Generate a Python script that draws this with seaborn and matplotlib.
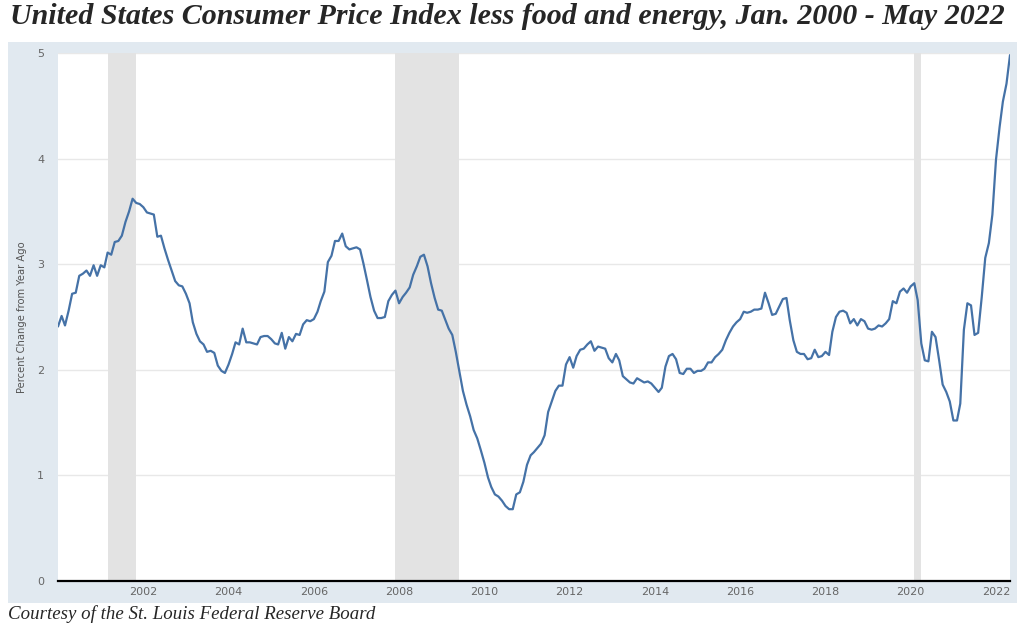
import pandas as pd
import matplotlib
matplotlib.use("Agg")
import matplotlib.pyplot as plt
import matplotlib.dates as mdates
from matplotlib.patches import Rectangle
import seaborn as sns

# monthly core CPI, percent change from year ago (Jan 2000 .. May 2022)
first_month = "2000-01-01"
pct_change = [
    2.41, 2.51, 2.42, 2.56, 2.72, 2.73, 2.89, 2.91, 2.94, 2.89, 2.99, 2.89,  # 2000
    2.99, 2.97, 3.11, 3.09, 3.21, 3.22, 3.27, 3.40, 3.50, 3.62, 3.58, 3.57,  # 2001
    3.54, 3.49, 3.48, 3.47, 3.26, 3.27, 3.15, 3.04, 2.94, 2.84, 2.80, 2.79,  # 2002
    2.72, 2.63, 2.45, 2.34, 2.27, 2.24, 2.17, 2.18, 2.16, 2.04, 1.99, 1.97,  # 2003
    2.05, 2.15, 2.26, 2.24, 2.39, 2.26, 2.26, 2.25, 2.24, 2.31, 2.32, 2.32,  # 2004
    2.29, 2.25, 2.24, 2.35, 2.20, 2.31, 2.27, 2.34, 2.33, 2.43, 2.47, 2.46,  # 2005
    2.48, 2.55, 2.65, 2.74, 3.02, 3.08, 3.22, 3.22, 3.29, 3.17, 3.14, 3.15,  # 2006
    3.16, 3.14, 3.01, 2.85, 2.69, 2.56, 2.49, 2.49, 2.50, 2.65, 2.71, 2.75,  # 2007
    2.63, 2.69, 2.73, 2.78, 2.90, 2.98, 3.07, 3.09, 2.98, 2.82, 2.68, 2.57,  # 2008
    2.56, 2.47, 2.39, 2.33, 2.17, 1.98, 1.80, 1.67, 1.56, 1.43, 1.35, 1.24,  # 2009
    1.12, 0.98, 0.89, 0.82, 0.80, 0.76, 0.71, 0.68, 0.68, 0.82, 0.84, 0.94,  # 2010
    1.10, 1.19, 1.22, 1.26, 1.30, 1.38, 1.60, 1.70, 1.80, 1.85, 1.85, 2.05,  # 2011
    2.12, 2.02, 2.13, 2.19, 2.20, 2.24, 2.27, 2.18, 2.22, 2.21, 2.20, 2.11,  # 2012
    2.07, 2.15, 2.09, 1.94, 1.91, 1.88, 1.87, 1.92, 1.90, 1.88, 1.89, 1.87,  # 2013
    1.83, 1.79, 1.83, 2.03, 2.13, 2.15, 2.10, 1.97, 1.96, 2.01, 2.01, 1.97,  # 2014
    1.99, 1.99, 2.01, 2.07, 2.07, 2.12, 2.15, 2.19, 2.28, 2.35, 2.41, 2.45,  # 2015
    2.48, 2.55, 2.54, 2.55, 2.57, 2.57, 2.58, 2.73, 2.63, 2.52, 2.53, 2.60,  # 2016
    2.67, 2.68, 2.47, 2.28, 2.17, 2.15, 2.15, 2.10, 2.11, 2.19, 2.12, 2.13,  # 2017
    2.17, 2.14, 2.36, 2.50, 2.55, 2.56, 2.54, 2.44, 2.48, 2.42, 2.48, 2.46,  # 2018
    2.39, 2.38, 2.39, 2.42, 2.41, 2.44, 2.48, 2.65, 2.63, 2.74, 2.77, 2.73,  # 2019
    2.79, 2.82, 2.66, 2.25, 2.09, 2.08, 2.36, 2.31, 2.09, 1.86, 1.79, 1.70,  # 2020
    1.52, 1.52, 1.68, 2.38, 2.63, 2.61, 2.33, 2.35, 2.69, 3.06, 3.20, 3.47,  # 2021
    3.99, 4.30, 4.54, 4.71, 4.98,                                            # 2022
]

recession_starts = ["2001-03-01", "2007-12-01", "2020-02-01"]
recession_ends = ["2001-11-01", "2009-06-01", "2020-04-01"]
tick_years = [2002, 2004, 2006, 2008, 2010, 2012, 2014, 2016, 2018, 2020, 2022]
y_ticks = [0, 1, 2, 3, 4, 5]

title = "United States Consumer Price Index less food and energy, Jan. 2000 - May 2022"
caption = "Courtesy of the St. Louis Federal Reserve Board"

df = pd.DataFrame({
    "date": pd.date_range(first_month, periods=len(pct_change), freq="MS"),
    "pct": pct_change,
})

sns.set_style("white")
plt.rcParams["font.family"] = ["DejaVu Sans"]

W, H = 1024, 628
fig = plt.figure(figsize=(W / 100, H / 100), dpi=100)
fig.patch.set_facecolor("white")

# light blue FRED-style panel behind the plot
fig.add_artist(Rectangle((8 / W, 1 - 603 / H), 1009 / W, 561 / H,
                         transform=fig.transFigure, facecolor="#e1e9f0",
                         edgecolor="none", zorder=0))

ax = fig.add_axes([58 / W, 1 - 581 / H, 952 / W, 528 / H])
ax.set_facecolor("white")

for s, e in zip(recession_starts, recession_ends):
    ax.axvspan(pd.Timestamp(s), pd.Timestamp(e), color="#e3e3e3", lw=0, zorder=1)

sns.lineplot(data=df, x="date", y="pct", color="#4572a7", linewidth=1.6,
             ax=ax, zorder=3)

ax.set_xlim(df["date"].iloc[0], df["date"].iloc[-1])
ax.set_ylim(0, 5)
ax.set_yticks(y_ticks)
ax.set_xticks([pd.Timestamp(f"{y}-01-01") for y in tick_years])
ax.xaxis.set_major_formatter(mdates.DateFormatter("%Y"))

ax.yaxis.grid(True, color="#e8e8e8", linewidth=1)
ax.xaxis.grid(False)
ax.set_axisbelow(True)
for side in ["top", "right", "left"]:
    ax.spines[side].set_visible(False)
ax.spines["bottom"].set_color("black")
ax.spines["bottom"].set_linewidth(1.6)
ax.spines["bottom"].set_zorder(4)

ax.tick_params(axis="y", length=0, pad=10, labelsize=8, labelcolor="#666666")
ax.tick_params(axis="x", length=0, pad=4, labelsize=8, labelcolor="#666666")
ax.set_xlabel("")
ax.set_ylabel("Percent Change from Year Ago", fontsize=7.2, color="#555555")
ax.yaxis.set_label_coords(-0.033, 0.5)

t = fig.text(507 / W, 1 - 17 / H, title, ha="center", va="center",
             family="Liberation Serif", weight="bold", style="italic", fontsize=20)
c = fig.text(8 / W, 1 - 614 / H, caption, ha="left", va="center",
             family="Liberation Serif", style="italic", fontsize=14)

# scale the two serif texts so they span the same width as in the original
renderer = fig.canvas.get_renderer()
for txt, target in [(t, 995), (c, 367)]:
    w = txt.get_window_extent(renderer=renderer).width
    txt.set_fontsize(txt.get_fontsize() * target / w)

fig.savefig("out.png", dpi=100)
